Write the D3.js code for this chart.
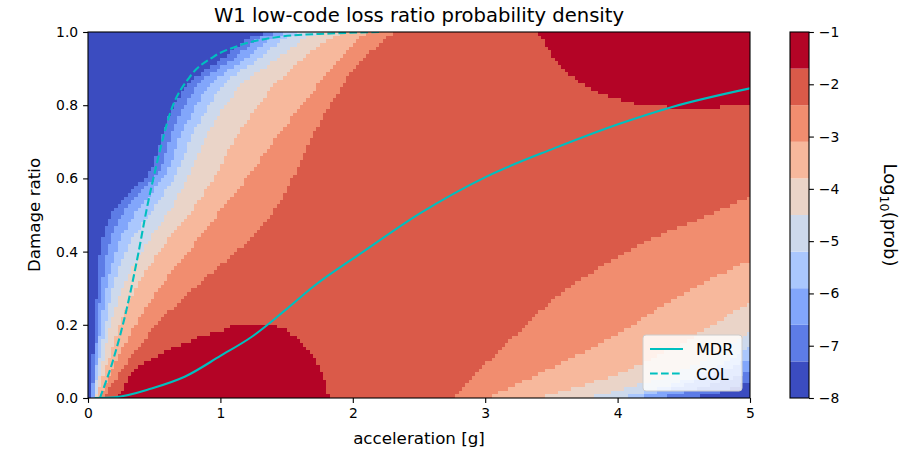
<!DOCTYPE html>
<html>
<head>
<meta charset="utf-8">
<script src="https://cdn.jsdelivr.net/npm/d3@7"></script>
<style>
body { margin: 0; background: #fff; }
text { font-family: "DejaVu Sans", sans-serif; fill: #000; }
</style>
</head>
<body>
<svg id="chart" width="918" height="452"></svg>
<script>
// contour levels of log10(prob) and their fill colours (coolwarm, 10 bands)
var levels = [-8, -7.3, -6.6, -5.9, -5.2, -4.5, -3.8, -3.1, -2.4, -1.7, -1];
var bandColors = ["#3b4cc0", "#5d7ce6", "#82a6fb", "#aac7fd", "#cdd9ec",
                  "#ead4c8", "#f7b89c", "#f18d6f", "#da5a49", "#b40426"];

// mesh resolution of the density grid
var accStep = 0.025;
var dmgStep = 0.01;

// damage ratio rows at which the left-hand band edges were read
var dmgRows = [0, 0.03, 0.1, 0.2, 0.3, 0.42, 0.52, 0.62, 0.72, 0.83, 0.87, 0.92, 0.96, 0.985, 1.0];
// acceleration of the edge where band k starts (k = 1..8), one value per row
var leftEdges = [
    [0.02, 0.025, 0.035, 0.05, 0.07, 0.10, 0.21, 0.47, 0.56, 0.70, 0.79, 0.99, 1.13, 1.22, 1.40],
    [0.03, 0.035, 0.05, 0.075, 0.10, 0.16, 0.29, 0.54, 0.63, 0.78, 0.87, 1.07, 1.21, 1.30, 1.47],
    [0.04, 0.045, 0.065, 0.10, 0.14, 0.23, 0.39, 0.60, 0.70, 0.87, 0.96, 1.16, 1.30, 1.39, 1.54],
    [0.05, 0.055, 0.085, 0.13, 0.19, 0.31, 0.50, 0.68, 0.79, 0.97, 1.06, 1.26, 1.40, 1.50, 1.63],
    [0.06, 0.07, 0.11, 0.17, 0.26, 0.44, 0.63, 0.78, 0.90, 1.10, 1.20, 1.40, 1.55, 1.65, 1.76],
    [0.07, 0.09, 0.15, 0.24, 0.36, 0.58, 0.80, 0.98, 1.13, 1.35, 1.45, 1.60, 1.74, 1.84, 1.93],
    [0.09, 0.12, 0.21, 0.36, 0.54, 0.80, 1.02, 1.24, 1.44, 1.68, 1.77, 1.88, 1.98, 2.05, 2.12],
    [0.12, 0.17, 0.30, 0.52, 0.80, 1.18, 1.42, 1.57, 1.70, 1.88, 1.95, 2.06, 2.18, 2.25, 2.31]
];
// lower-right edges where band k ends: [acceleration, damage ratio], bottom -> right side
var rightEdges = [
    [[4.5, 0], [4.75, 0.012], [5.0, 0.045]],
    [[4.3, 0], [4.6, 0.025], [5.0, 0.07]],
    [[4.15, 0], [4.5, 0.035], [5.0, 0.105]],
    [[4.0, 0], [4.3, 0.025], [4.7, 0.075], [5.0, 0.14]],
    [[3.78, 0], [4.0, 0.02], [4.3, 0.05], [4.7, 0.11], [5.0, 0.181]],
    [[3.42, 0], [3.52, 0.012], [4.02, 0.068], [4.53, 0.158], [5.0, 0.263]],
    [[3.02, 0], [3.52, 0.086], [4.02, 0.177], [4.45, 0.277], [5.0, 0.377]],
    [[2.75, 0], [3.01, 0.095], [3.27, 0.186], [3.54, 0.277], [3.92, 0.368], [4.40, 0.459], [4.6, 0.486], [5.0, 0.55]]
];
// the two regions above -1.7
var peakLow = [[0.23, 0], [0.355, 0.077], [0.48, 0.108], [0.61, 0.131], [0.73, 0.149], [0.86, 0.168],
               [0.985, 0.181], [1.14, 0.202], [1.34, 0.202], [1.49, 0.186], [1.61, 0.149],
               [1.72, 0.104], [1.78, 0.058], [1.82, 0]];
var peakHigh = [[3.40, 1.0], [3.45, 0.97], [3.52, 0.93], [3.62, 0.89], [3.72, 0.86], [3.85, 0.835],
                [4.02, 0.815], [4.2, 0.80], [4.45, 0.794], [4.7, 0.794], [5.0, 0.80]];

var mdrCurve = [[0.05, 0], [0.2, 0.002], [0.48, 0.026], [0.73, 0.058], [1.0, 0.115], [1.24, 0.168],
                [1.49, 0.24], [1.70, 0.304], [2.08, 0.40], [2.51, 0.505], [3.01, 0.605],
                [3.52, 0.682], [4.02, 0.75], [4.40, 0.794], [5.0, 0.846]];
var colCurve = [[0.09, 0], [0.19, 0.104], [0.29, 0.24], [0.38, 0.395], [0.44, 0.51], [0.52, 0.641],
                [0.62, 0.778], [0.77, 0.878], [0.95, 0.933], [1.15, 0.964], [1.45, 0.987],
                [1.83, 0.996], [2.2, 1.0]];

var xTicks = [0, 1, 2, 3, 4, 5];
var yTicks = [0, 0.2, 0.4, 0.6, 0.8, 1.0];
var cbTicks = [-1, -2, -3, -4, -5, -6, -7, -8];

var svg = d3.select('#chart');
var plot = {left: 88, right: 750, top: 32, bottom: 398};
var x = d3.scaleLinear().domain([0, 5]).range([plot.left, plot.right]);
var y = d3.scaleLinear().domain([0, 1]).range([plot.bottom, plot.top]);

var smooth = d3.line().x(function (d) { return x(d[0]); }).y(function (d) { return y(d[1]); })
    .curve(d3.curveCatmullRom.alpha(0.5));
var cont = function (pts) { return smooth(pts).replace(/^M/, 'L'); };

// outlines of each band (area at or above band k) and of the two peaks
var bandOutlines = d3.range(1, 9).map(function (k) {
    var left = dmgRows.map(function (d, i) { return [leftEdges[k - 1][i], d]; });
    var right = rightEdges[k - 1].slice().reverse();
    return new Path2D(smooth(left) + 'L' + x(5) + ',' + y(1) + cont(right) + 'Z');
});
var peakOutlines = [
    new Path2D(smooth(peakLow) + 'Z'),
    new Path2D(smooth(peakHigh) + 'L' + x(5) + ',' + y(1) + 'Z')
];

var probeCanvas = document.createElement('canvas');
probeCanvas.width = 918;
probeCanvas.height = 452;
var probe = probeCanvas.getContext('2d');

function bandAt(a, d) {
    var px = x(a), py = y(d);
    for (var p = 0; p < peakOutlines.length; p++) {
        if (probe.isPointInPath(peakOutlines[p], px, py)) return 9;
    }
    for (var k = 8; k >= 1; k--) {
        if (probe.isPointInPath(bandOutlines[k - 1], px, py)) return k;
    }
    return 0;
}

// collect the mesh row by row, merging equal neighbours into runs
var nCols = Math.round(5 / accStep);
var nRows = Math.round(1 / dmgStep);
var cells = [];
for (var r = 0; r < nRows; r++) {
    var d0 = r * dmgStep;
    var start = 0;
    var cur = bandAt(accStep / 2, d0 + dmgStep / 2);
    for (var c = 1; c <= nCols; c++) {
        var b = c < nCols ? bandAt(c * accStep + accStep / 2, d0 + dmgStep / 2) : -1;
        if (b !== cur) {
            cells.push({a0: start * accStep, a1: c * accStep, d0: d0, d1: d0 + dmgStep, band: cur});
            start = c;
            cur = b;
        }
    }
}

svg.append('g')
    .attr('shape-rendering', 'crispEdges')
    .selectAll('rect')
    .data(cells)
    .enter()
    .append('rect')
    .attr('x', function (d) { return x(d.a0); })
    .attr('y', function (d) { return y(d.d1); })
    .attr('width', function (d) { return x(d.a1) - x(d.a0); })
    .attr('height', function (d) { return y(d.d0) - y(d.d1); })
    .attr('fill', function (d) { return bandColors[d.band]; });

svg.append('defs').append('clipPath').attr('id', 'plotClip')
    .append('rect')
    .attr('x', plot.left).attr('y', plot.top)
    .attr('width', plot.right - plot.left).attr('height', plot.bottom - plot.top);

var curve = d3.line().x(function (d) { return x(d[0]); }).y(function (d) { return y(d[1]); })
    .curve(d3.curveMonotoneX);
var lines = svg.append('g').attr('clip-path', 'url(#plotClip)');
lines.append('path')
    .attr('d', curve(mdrCurve))
    .attr('fill', 'none').attr('stroke', '#00bfbf').attr('stroke-width', 2.1);
lines.append('path')
    .attr('d', curve(colCurve))
    .attr('fill', 'none').attr('stroke', '#00bfbf').attr('stroke-width', 2.1)
    .attr('stroke-dasharray', '7.7,3.3');

// axes
var xAxis = svg.append('g').attr('transform', 'translate(0,' + plot.bottom + ')')
    .call(d3.axisBottom(x).tickValues(xTicks).tickFormat(d3.format('d')).tickSize(4.9).tickPadding(4.9));
var yAxis = svg.append('g').attr('transform', 'translate(' + plot.left + ',0)')
    .call(d3.axisLeft(y).tickValues(yTicks).tickFormat(d3.format('.1f')).tickSize(4.9).tickPadding(4.9));
[xAxis, yAxis].forEach(function (a) {
    a.select('.domain').remove();
    a.selectAll('line').attr('stroke', '#000').attr('stroke-width', 1.1);
    a.selectAll('text').attr('font-size', 13.9).attr('font-family', '"DejaVu Sans", sans-serif').attr('fill', '#000');
});

svg.append('rect')
    .attr('x', plot.left).attr('y', plot.top)
    .attr('width', plot.right - plot.left).attr('height', plot.bottom - plot.top)
    .attr('fill', 'none').attr('stroke', '#000').attr('stroke-width', 1.1);

svg.append('text')
    .attr('x', (plot.left + plot.right) / 2).attr('y', 22)
    .attr('text-anchor', 'middle').attr('font-size', 19.6)
    .text('W1 low-code loss ratio probability density');
svg.append('text')
    .attr('x', (plot.left + plot.right) / 2).attr('y', 444)
    .attr('text-anchor', 'middle').attr('font-size', 16.7)
    .text('acceleration [g]');
svg.append('text')
    .attr('transform', 'translate(40,' + (plot.top + plot.bottom) / 2 + ') rotate(-90)')
    .attr('text-anchor', 'middle').attr('font-size', 16.7)
    .text('Damage ratio');

// legend
var legend = svg.append('g').attr('transform', 'translate(643,335)');
legend.append('rect')
    .attr('width', 99).attr('height', 56).attr('rx', 3)
    .attr('fill', '#fff').attr('fill-opacity', 0.8)
    .attr('stroke', '#ccc').attr('stroke-width', 1);
legend.selectAll('line.item')
    .data(['MDR', 'COL'])
    .enter()
    .append('line')
    .attr('x1', 7).attr('x2', 40)
    .attr('y1', function (d, i) { return 14 + i * 24.5; })
    .attr('y2', function (d, i) { return 14 + i * 24.5; })
    .attr('stroke', '#00bfbf').attr('stroke-width', 2.1)
    .attr('stroke-dasharray', function (d, i) { return i ? '7.7,3.3' : null; });
legend.selectAll('text.item')
    .data(['MDR', 'COL'])
    .enter()
    .append('text')
    .attr('x', 53)
    .attr('y', function (d, i) { return 20 + i * 24.5; })
    .attr('font-size', 16)
    .text(function (d) { return d; });

// colour bar
var cb = {left: 790, width: 19};
var cy = d3.scaleLinear().domain([-8, -1]).range([plot.bottom, plot.top]);
svg.append('g').selectAll('rect')
    .data(d3.range(10))
    .enter()
    .append('rect')
    .attr('x', cb.left)
    .attr('y', function (i) { return cy(levels[i + 1]); })
    .attr('width', cb.width)
    .attr('height', function (i) { return cy(levels[i]) - cy(levels[i + 1]); })
    .attr('fill', function (i) { return bandColors[i]; });
svg.append('rect')
    .attr('x', cb.left).attr('y', plot.top)
    .attr('width', cb.width).attr('height', plot.bottom - plot.top)
    .attr('fill', 'none').attr('stroke', '#000').attr('stroke-width', 1.1);
var cbAxis = svg.append('g').attr('transform', 'translate(' + (cb.left + cb.width) + ',0)')
    .call(d3.axisRight(cy).tickValues(cbTicks).tickFormat(function (d) { return '\u2212' + Math.abs(d); })
        .tickSize(4.9).tickPadding(4.9));
cbAxis.select('.domain').remove();
cbAxis.selectAll('line').attr('stroke', '#000').attr('stroke-width', 1.1);
cbAxis.selectAll('text').attr('font-size', 13.9).attr('font-family', '"DejaVu Sans", sans-serif').attr('fill', '#000');

var cbLabel = svg.append('text')
    .attr('transform', 'translate(884,' + (plot.top + plot.bottom) / 2 + ') rotate(90)')
    .attr('text-anchor', 'middle').attr('font-size', 18);
cbLabel.append('tspan').text('Log');
cbLabel.append('tspan').attr('font-size', 12.6).attr('dy', 4).text('10');
cbLabel.append('tspan').attr('dy', -4).text('(prob)');
</script>
</body>
</html>
